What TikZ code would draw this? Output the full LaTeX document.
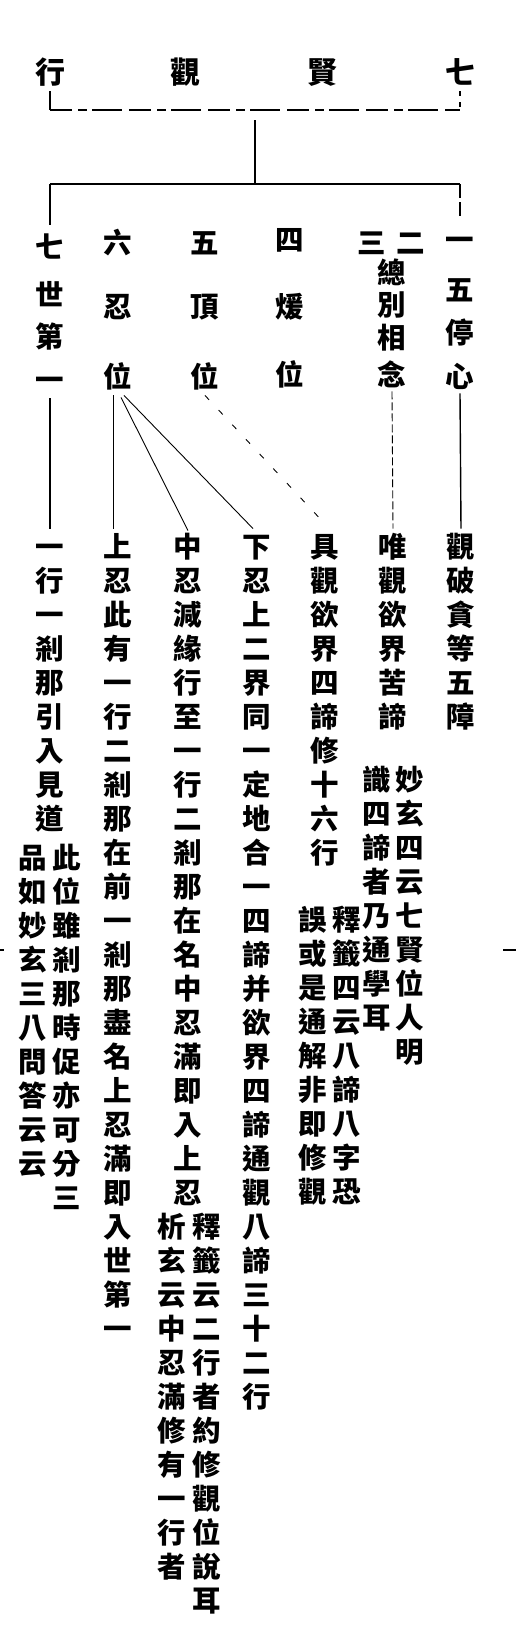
\documentclass[tikz,border=0pt]{standalone}
\usepackage{fontspec}
\newfontfamily\cjk{Noto Sans CJK TC}
\usetikzlibrary{calc}
\makeatletter
\newcount\vcn
\newcommand\vcol[5]{%
  \global\vcn=0
  \@tfor\vcch:=#5\do{%
    \node[ch] (#1-\the\vcn) at (#2,#3+\the\vcn*#4) {\vcch};%
    \global\advance\vcn by 1\relax}%
}
\makeatother
\tikzset{
  ch/.style={font=\cjk\bfseries\fontsize{28.5}{28.5}\selectfont, inner sep=0pt,
    text height=25pt, text depth=3.5pt, anchor=center},
  ttl/.style={font=\cjk\bfseries\fontsize{30}{30}\selectfont, inner sep=0pt,
    text height=26.4pt, text depth=3.6pt, anchor=center},
  wire/.style={line width=1.4pt},
  thinw/.style={line width=0.9pt},
}
\begin{document}
\begin{tikzpicture}[x=1pt,y=-1pt]
\fill[white] (0,0) rectangle (516,1652);
\useasboundingbox (0,0) rectangle (516,1652);

% title
\node[ttl] (t1) at (50,72) {行};
\node[ttl] (t2) at (185,72) {觀};
\node[ttl] (t3) at (322,72) {賢};
\node[ttl] (t4) at (460,72) {七};

% first level
\node[ch] (s7-0) at (50,247) {七};
\node[ch] (s7-1) at (50,295) {世};
\node[ch] (s7-2) at (50,337) {第};
\node[ch] (s7-3) at (50,380) {一};
\node[ch] (s6-0) at (118,243) {六};
\node[ch] (s6-1) at (118,307) {忍};
\node[ch] (s6-2) at (118,377) {位};
\node[ch] (s5-0) at (205,243) {五};
\node[ch] (s5-1) at (205,307) {頂};
\node[ch] (s5-2) at (205,377) {位};
\node[ch] (s4-0) at (290,240) {四};
\node[ch] (s4-1) at (290,307) {煖};
\node[ch] (s4-2) at (290,375) {位};
\node[ch] (s3) at (372,243) {三};
\node[ch] (s2) at (411,243) {二};
\node[ch] (s23-0) at (392,273) {總};
\node[ch] (s23-1) at (392,305) {別};
\node[ch] (s23-2) at (392,338) {相};
\node[ch] (s23-3) at (392,375) {念};
\node[ch] (s1-0) at (460,240) {一};
\node[ch] (s1-1) at (460,290) {五};
\node[ch] (s1-2) at (460,333) {停};
\node[ch] (s1-3) at (460,377) {心};

% second level columns
\vcol{A}{461}{547}{34}{觀破貪等五障}
\vcol{W}{393}{547}{34}{唯觀欲界苦諦}
\vcol{Wa}{410}{780}{34}{妙玄四云七賢位人明}
\vcol{Wb}{377}{780}{34}{識四諦者乃通學耳}
\vcol{J}{325}{547}{34}{具觀欲界四諦修十六行}
\vcol{Ja}{347}{920}{34}{釋籤四云八諦八字恐}
\vcol{Jb}{313}{920}{34}{誤或是通解非即修觀}
\vcol{X}{257}{547}{34}{下忍上二界同一定地合一四諦并欲界四諦通觀八諦三十二行}
\vcol{Z}{188}{547}{34}{中忍減緣行至一行二剎那在名中忍滿即入上忍}
\vcol{Za}{207}{1227}{34}{釋籤云二行者約修觀位說耳}
\vcol{Zb}{172}{1227}{34}{析玄云中忍滿修有一行者}
\vcol{U}{118}{547}{34}{上忍此有一行二剎那在前一剎那盡名上忍滿即入世第一}
\vcol{S}{50}{547}{34}{一行一剎那引入見道}
\vcol{Sa}{67}{858}{34}{此位雖剎那時促亦可分三}
\vcol{Sb}{33}{858}{34}{品如妙玄三八問答云云}

% brackets
\coordinate (b1l) at (50,110);
\coordinate (b1m) at (255,110);
\coordinate (b1r) at (460,110);
\coordinate (b2l) at (50,184);
\coordinate (b2m) at (255,184);
\coordinate (b2r) at (460,184);
\draw[wire] ([yshift=-4pt]t1.south) -- (b1l);
\draw[wire, dash pattern=on 22pt off 6pt on 9pt off 5pt on 30pt off 7pt] (b1l) -- (b1r);
\draw[wire, dash pattern=on 5pt off 6pt] ([yshift=-4pt]t4.south) -- (b1r);
\draw[wire] ([yshift=-10pt]b1m) -- (b2m);
\draw[wire] (b2l) -- (b2r);
\draw[wire] (b2l) -- ([yshift=8pt]s7-0.north);
\draw[wire, dash pattern=on 14pt off 4pt] (b2r) -- ([yshift=8pt]s1-0.north);

% to second level
\draw[wire] ([yshift=-4pt]s7-3.south) -- ([yshift=4pt]S-0.north);
\draw[thinw] ([shift={(-5pt,-4pt)}]s6-2.south) -- ([shift={(-5pt,4pt)}]U-0.north);
\draw[thinw] ([shift={(3pt,-6pt)}]s6-2.south) -- ([yshift=2pt]Z-0.north);
\draw[thinw] ([shift={(6pt,-4pt)}]s6-2.south) -- ([shift={(-4pt,4pt)}]X-0.north);
\draw[thinw, dash pattern=on 6pt off 14pt, shorten >=16pt] ([yshift=-4pt]s5-2.south) -- ([xshift=8pt]J-0.north);
\draw[thinw, dash pattern=on 8pt off 3pt] ([yshift=-2pt]s23-3.south) -- ([yshift=4pt]W-0.north);
\draw[wire] ([yshift=-2pt]s1-3.south) -- ([yshift=4pt]A-0.north);

% margin marks
\coordinate (mr1) at (503,950);
\coordinate (mr2) at (516,950);
\coordinate (ml1) at (0,950);
\coordinate (ml2) at (4,950);
\draw[wire] (mr1) -- (mr2);
\draw[wire] (ml1) -- (ml2);
\end{tikzpicture}
\end{document}
